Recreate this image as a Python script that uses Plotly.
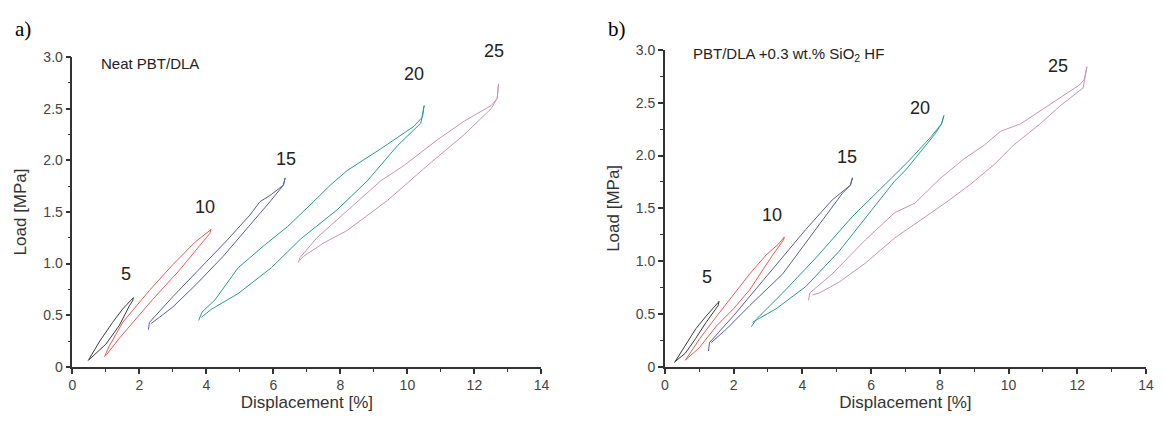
import plotly.graph_objects as go

# ---- data: each loop = loading branch then unloading branch ----
# panel a) Neat PBT/DLA
a5_x = [0.47, 0.82, 1.2, 1.5, 1.82, 1.8, 1.7, 1.4, 1.0, 0.5]
a5_y = [0.06, 0.25, 0.43, 0.56, 0.67, 0.64, 0.59, 0.40, 0.22, 0.07]
a10_x = [0.96, 1.1, 1.5, 2.3, 3.0, 3.67, 4.14, 4.1, 3.97, 3.18, 2.39, 1.41, 1.0]
a10_y = [0.10, 0.20, 0.43, 0.74, 0.99, 1.21, 1.33, 1.29, 1.24, 0.93, 0.65, 0.28, 0.11]
a15_x = [2.27, 2.3, 3.0, 3.8, 4.6, 5.3, 5.6, 5.9, 6.3, 6.35, 6.3, 5.9, 5.2, 4.5, 3.7, 3.0, 2.6, 2.35]
a15_y = [0.36, 0.43, 0.68, 0.95, 1.22, 1.47, 1.60, 1.66, 1.76, 1.83, 1.76, 1.60, 1.33, 1.07, 0.80, 0.58, 0.48, 0.42]
a20_x = [3.77, 3.87, 4.26, 4.95, 5.74, 6.43, 7.2, 7.7, 8.2, 9.2, 10.2, 10.45, 10.5, 10.45, 10.4, 9.7, 8.8, 7.9, 6.82, 5.94, 4.95, 4.16, 3.85]
a20_y = [0.45, 0.53, 0.65, 0.96, 1.18, 1.36, 1.60, 1.76, 1.90, 2.11, 2.33, 2.42, 2.53, 2.45, 2.36, 2.14, 1.80, 1.52, 1.24, 0.96, 0.71, 0.56, 0.48]
a25_x = [6.74, 6.8, 7.3, 8.0, 8.5, 9.2, 9.9, 10.9, 11.7, 12.5, 12.68, 12.72, 12.68, 12.5, 11.7, 10.6, 9.4, 8.2, 7.5, 6.9, 6.78]
a25_y = [1.01, 1.06, 1.25, 1.45, 1.60, 1.80, 1.95, 2.20, 2.38, 2.53, 2.60, 2.74, 2.60, 2.50, 2.25, 1.95, 1.61, 1.32, 1.20, 1.07, 1.03]

# panel b) PBT/DLA +0.3 wt.% SiO2 HF
b5_x = [0.28, 0.6, 0.9, 1.2, 1.58, 1.55, 1.2, 0.9, 0.6, 0.3]
b5_y = [0.04, 0.21, 0.36, 0.48, 0.62, 0.58, 0.42, 0.27, 0.13, 0.05]
b10_x = [0.59, 1.0, 1.51, 2.0, 2.47, 2.95, 3.3, 3.48, 3.45, 3.14, 2.47, 2.0, 1.51, 1.0, 0.62]
b10_y = [0.06, 0.26, 0.48, 0.68, 0.88, 1.06, 1.16, 1.23, 1.20, 1.06, 0.73, 0.55, 0.39, 0.18, 0.07]
b15_x = [1.27, 1.30, 1.99, 2.95, 4.1, 4.87, 5.25, 5.4, 5.46, 5.4, 5.16, 4.39, 3.43, 2.47, 1.8, 1.35]
b15_y = [0.15, 0.23, 0.48, 0.85, 1.30, 1.58, 1.68, 1.72, 1.79, 1.72, 1.64, 1.30, 0.88, 0.58, 0.36, 0.23]
b20_x = [2.52, 2.66, 3.43, 4.39, 5.45, 6.4, 7.1, 7.75, 8.05, 8.12, 8.05, 7.85, 7.0, 6.69, 6.02, 5.06, 4.1, 3.24, 2.7, 2.55]
b20_y = [0.38, 0.45, 0.70, 1.03, 1.42, 1.72, 1.95, 2.18, 2.30, 2.38, 2.30, 2.20, 1.86, 1.76, 1.48, 1.09, 0.76, 0.55, 0.45, 0.42]
b25_x = [4.18, 4.22, 4.87, 5.83, 6.69, 7.28, 8.0, 8.71, 9.3, 9.77, 10.35, 10.92, 11.5, 12.07, 12.2, 12.28,
         12.17, 11.5, 10.92, 10.6, 10.15, 9.6, 8.9, 8.2, 7.46, 6.69, 5.83, 5.06, 4.5, 4.29]
b25_y = [0.63, 0.70, 0.88, 1.20, 1.46, 1.55, 1.78, 1.97, 2.10, 2.23, 2.30, 2.42, 2.55, 2.67, 2.72, 2.84,
         2.64, 2.47, 2.30, 2.22, 2.10, 1.92, 1.73, 1.56, 1.39, 1.22, 0.98, 0.80, 0.70, 0.68]

strain_labels = ["5", "10", "15", "20", "25"]
a_label_x = [1.6, 3.95, 6.38, 10.19, 12.58]
a_label_y = [0.90, 1.55, 2.01, 2.84, 3.0]
b_label_x = [1.23, 3.11, 5.30, 7.41, 11.45]
b_label_y = [0.85, 1.44, 1.99, 2.45, 2.85]

colors = ["#3a3a3a", "#e0605c", "#575fa3", "#2b9a8d", "#c596b2"]

x_ticks = [0, 2, 4, 6, 8, 10, 12, 14]
y_ticks = [0, 0.5, 1.0, 1.5, 2.0, 2.5, 3.0]
y_ticktext = ["0", "0.5", "1.0", "1.5", "2.0", "2.5", "3.0"]

# page body keeps its default 8px margin on every side, so size the figure to fit inside it
OFF = 8
W, H = 1165 - 2 * OFF, 421 - 2 * OFF


def fx(p):
    return (p - OFF) / W


def fy(p):
    return 1 - (p - OFF) / H


fig = go.Figure()

a_loops = [(a5_x, a5_y), (a10_x, a10_y), (a15_x, a15_y), (a20_x, a20_y), (a25_x, a25_y)]
b_loops = [(b5_x, b5_y), (b10_x, b10_y), (b15_x, b15_y), (b20_x, b20_y), (b25_x, b25_y)]

for (xs, ys), c in zip(a_loops, colors):
    fig.add_trace(go.Scatter(x=xs, y=ys, mode="lines", line=dict(color=c, width=1),
                             xaxis="x", yaxis="y", showlegend=False))
for (xs, ys), c in zip(b_loops, colors):
    fig.add_trace(go.Scatter(x=xs, y=ys, mode="lines", line=dict(color=c, width=1),
                             xaxis="x2", yaxis="y2", showlegend=False))

axis_style = dict(
    showgrid=False, zeroline=False, showline=True, linecolor="#333", linewidth=1.5,
    ticks="outside", ticklen=5, tickwidth=1.5, tickcolor="#333",
    tickfont=dict(family="Liberation Sans, Arial", size=14, color="#444"),
    minor=dict(ticks="outside", ticklen=3, tickwidth=1, tickcolor="#333"),
    fixedrange=True,
)
title_font = dict(family="Liberation Sans, Arial", size=17, color="#333")

xa = dict(axis_style, range=[0, 14], tickvals=x_ticks, minor=dict(axis_style["minor"], dtick=1),
          title=dict(text="Displacement [%]", font=title_font, standoff=2))
ya = dict(axis_style, range=[0, 3], tickvals=y_ticks, ticktext=y_ticktext,
          minor=dict(axis_style["minor"], dtick=0.25),
          title=dict(text="Load [MPa]", font=title_font, standoff=12))

fig.update_layout(
    width=W, height=H, margin=dict(l=0, r=0, t=0, b=0),
    paper_bgcolor="white", plot_bgcolor="white",
    xaxis=dict(xa, domain=[fx(69), fx(543)], anchor="y"),
    yaxis=dict(ya, domain=[fy(373.3), fy(50.7)], anchor="x"),
    xaxis2=dict(xa, domain=[fx(667.7), fx(1154)], anchor="y2"),
    yaxis2=dict(ya, domain=[fy(373.3), fy(43.3)], anchor="x2"),
)

num_font = dict(family="Liberation Sans, Arial", size=18, color="#222")
for i, (t, x, y) in enumerate(zip(strain_labels, a_label_x, a_label_y)):
    fig.add_annotation(x=x, y=y, xref="x", yref="y", text=t, showarrow=False, font=num_font,
                       yshift=6 if i == 4 else 0)
for t, x, y in zip(strain_labels, b_label_x, b_label_y):
    fig.add_annotation(x=x, y=y, xref="x2", yref="y2", text=t, showarrow=False, font=num_font)

sub_font = dict(family="Liberation Sans, Arial", size=15, color="#222")
fig.add_annotation(x=fx(96), y=fy(57), xref="paper", yref="paper", text="Neat PBT/DLA",
                   showarrow=False, xanchor="left", yanchor="middle", font=sub_font)
fig.add_annotation(x=fx(694), y=fy(48), xref="paper", yref="paper",
                   text="PBT/DLA +0.3 wt.% SiO<sub>2</sub> HF",
                   showarrow=False, xanchor="left", yanchor="middle", font=sub_font)

panel_font = dict(family="Liberation Serif, Times New Roman", size=21, color="black")
fig.add_annotation(x=fx(9), y=fy(22), xref="paper", yref="paper", text="a)",
                   showarrow=False, xanchor="left", yanchor="middle", font=panel_font)
fig.add_annotation(x=fx(608), y=fy(22), xref="paper", yref="paper", text="b)",
                   showarrow=False, xanchor="left", yanchor="middle", font=panel_font)

fig.write_html("out.html")
